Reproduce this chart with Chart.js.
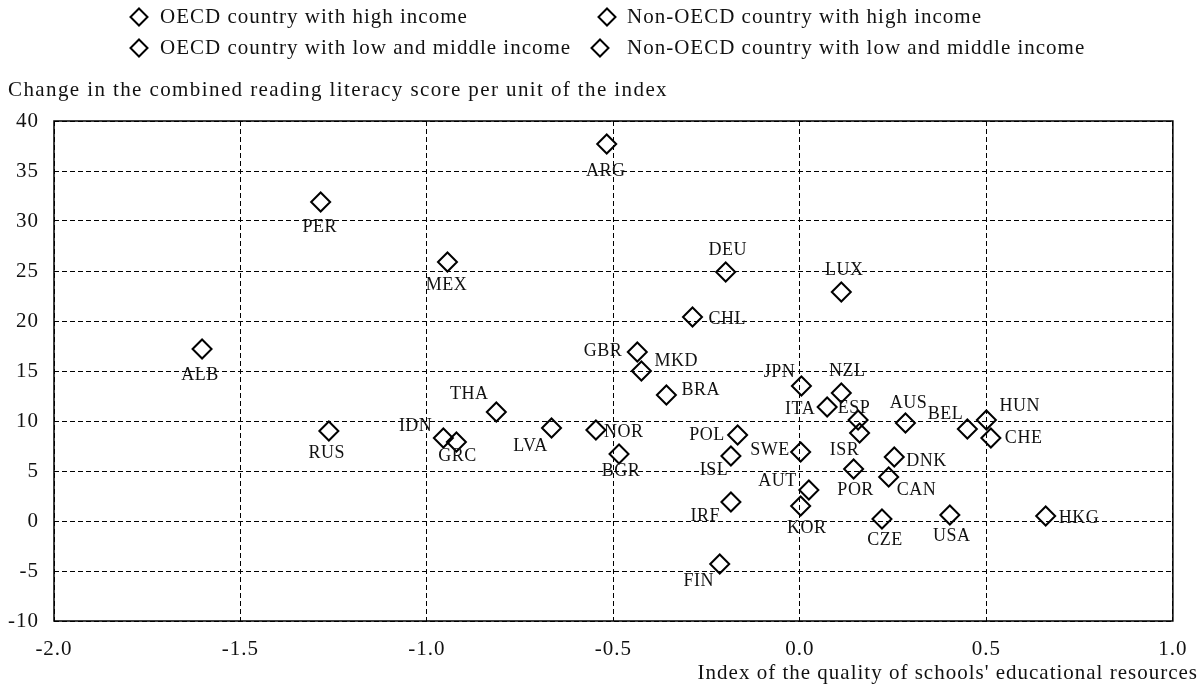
<!DOCTYPE html>
<html>
<head>
<meta charset="utf-8">
<script src="https://cdn.jsdelivr.net/npm/chart.js@4/dist/chart.umd.min.js"></script>
<style>
  html, body { margin: 0; padding: 0; background: #fff; }
  #wrap { width: 1202px; height: 690px; }
</style>
</head>
<body>
<div id="wrap"><canvas id="myChart" width="1202" height="690"></canvas></div>
<script>
// series names (legend order)
const seriesNames = [
    'OECD country with high income',
    'Non-OECD country with high income',
    'OECD country with low and middle income',
    'Non-OECD country with low and middle income'
];

// OECD, high income
const oecdHighCodes = ['AUS', 'AUT', 'BEL', 'CAN', 'DNK', 'FIN', 'DEU', 'GRC', 'ISL', 'IRF', 'ITA',
    'JPN', 'KOR', 'LUX', 'NZL', 'NOR', 'POR', 'ESP', 'SWE', 'CHE', 'GBR', 'USA'];
const oecdHighX = [0.283, 0.024, 0.449, 0.238, 0.253, -0.215, -0.199, -0.921, -0.185, -0.185, 0.073,
    0.004, 0.002, 0.111, 0.111, -0.547, 0.144, 0.156, 0.002, 0.512, -0.436, 0.402];
const oecdHighY = [9.8, 3.1, 9.2, 4.4, 6.4, -4.3, 24.9, 7.9, 6.5, 1.9, 11.4,
    13.5, 1.5, 22.9, 12.8, 9.1, 5.2, 10.1, 6.9, 8.3, 16.9, 0.6];

// non-OECD, high income
const nonOecdHighCodes = ['HKG', 'ISR'];
const nonOecdHighX = [0.659, 0.160];
const nonOecdHighY = [0.5, 8.8];

// OECD, low and middle income
const oecdLowCodes = ['CZE', 'HUN', 'MEX', 'POL'];
const oecdLowX = [0.220, 0.500, -0.945, -0.167];
const oecdLowY = [0.2, 10.1, 25.9, 8.6];

// non-OECD, low and middle income
const nonOecdLowCodes = ['ALB', 'ARG', 'BGR', 'BRA', 'CHL', 'IDN', 'LVA', 'MKD', 'PER', 'RUS', 'THA'];
const nonOecdLowX = [-1.603, -0.518, -0.485, -0.358, -0.288, -0.956, -0.666, -0.425, -1.285, -1.263, -0.814];
const nonOecdLowY = [17.2, 37.7, 6.7, 12.6, 20.4, 8.3, 9.3, 15.0, 31.9, 9.0, 10.9];

const yTitle = 'Change in the combined reading literacy score per unit of the index';
const xTitle = "Index of the quality of schools' educational resources";

// where each country code sits relative to its marker: [align, dx, dy]
const labelPlacement = {
    PER: ['c', -1, 25], ALB: ['c', -2, 26], RUS: ['c', -2, 22], ARG: ['c', -1, 27],
    MEX: ['c', -1, 23], DEU: ['c', 2, -22], CHL: ['l', 16, 2], GBR: ['r', -15, -1],
    MKD: ['l', 13, -10], BRA: ['l', 15, -5], THA: ['c', -27, -18], IDN: ['r', -11, -12],
    GRC: ['c', 1, 14], LVA: ['c', -21, 18], NOR: ['l', 8, 2], BGR: ['c', 2, 17],
    POL: ['r', -13, 0], ISL: ['c', -17, 14], SWE: ['r', -11, -2], LUX: ['c', 3, -22],
    JPN: ['c', -22, -14], NZL: ['c', 6, -22], ITA: ['r', -12, 2], ESP: ['c', -4, -12],
    ISR: ['c', -15, 17], AUS: ['c', 3, -20], BEL: ['c', -22, -15], HUN: ['l', 13, -14],
    CHE: ['l', 14, 0], DNK: ['l', 12, 4], POR: ['c', 2, 21], CAN: ['l', 8, 13],
    AUT: ['r', -12, -9], KOR: ['c', 6, 22], IRF: ['r', -11, 14], CZE: ['c', 3, 21],
    USA: ['c', 2, 21], HKG: ['l', 13, 2], FIN: ['c', -21, 17]
};

const SERIF = "'Liberation Serif', 'Times New Roman', serif";

function toPoints(xs, ys) {
    return xs.map((x, i) => ({ x: x, y: ys[i] }));
}

function makeSet(name, codes, xs, ys) {
    return {
        label: name,
        codes: codes,
        data: toPoints(xs, ys),
        pointStyle: 'rectRot',
        pointRadius: 9.5,
        pointHoverRadius: 9.5,
        borderWidth: 2,
        borderColor: '#000',
        backgroundColor: 'rgba(0,0,0,0)'
    };
}

const data = {
    datasets: [
        makeSet(seriesNames[0], oecdHighCodes, oecdHighX, oecdHighY),
        makeSet(seriesNames[1], nonOecdHighCodes, nonOecdHighX, nonOecdHighY),
        makeSet(seriesNames[2], oecdLowCodes, oecdLowX, oecdLowY),
        makeSet(seriesNames[3], nonOecdLowCodes, nonOecdLowX, nonOecdLowY)
    ]
};

function diamond(ctx, x, y, r) {
    ctx.beginPath();
    ctx.moveTo(x, y - r);
    ctx.lineTo(x + r, y);
    ctx.lineTo(x, y + r);
    ctx.lineTo(x - r, y);
    ctx.closePath();
    ctx.stroke();
}

// spacing tweak so tick labels look like the original face
const spacing = {
    id: 'spacing',
    beforeDraw(chart) { chart.ctx.letterSpacing = '1px'; },
    afterDraw(chart) { chart.ctx.letterSpacing = '0px'; }
};

const frame = {
    id: 'frame',
    beforeDatasetsDraw(chart) {
        const { ctx, chartArea: a } = chart;
        ctx.save();
        ctx.strokeStyle = '#000';
        ctx.lineWidth = 1.5;
        ctx.setLineDash([]);
        ctx.strokeRect(a.left, a.top, a.right - a.left, a.bottom - a.top);
        ctx.restore();
    }
};

const countryLabels = {
    id: 'countryLabels',
    afterDatasetsDraw(chart) {
        const ctx = chart.ctx;
        ctx.save();
        ctx.font = '18px ' + SERIF;
        ctx.fillStyle = '#111';
        ctx.textBaseline = 'middle';
        ctx.letterSpacing = '0.5px';
        chart.data.datasets.forEach((ds, di) => {
            chart.getDatasetMeta(di).data.forEach((pt, i) => {
                const code = ds.codes[i];
                const p = labelPlacement[code] || ['c', 0, 20];
                ctx.textAlign = p[0] === 'l' ? 'left' : p[0] === 'r' ? 'right' : 'center';
                ctx.fillText(code, pt.x + p[1], pt.y + p[2]);
            });
        });
        ctx.restore();
    }
};

const legendAndTitles = {
    id: 'legendAndTitles',
    afterDraw(chart) {
        const ctx = chart.ctx;
        ctx.save();
        ctx.fillStyle = '#111';
        ctx.strokeStyle = '#000';
        ctx.lineWidth = 2;
        ctx.textBaseline = 'middle';
        ctx.textAlign = 'left';
        ctx.font = '21px ' + SERIF;
        ctx.letterSpacing = '1px';

        // legend, two columns
        const slots = [[139, 160, 17], [607, 627, 17], [139, 160, 48], [600, 627, 48]];
        seriesNames.forEach((name, i) => {
            const s = slots[i];
            diamond(ctx, s[0], s[2], 8.5);
            ctx.fillText(name, s[1], s[2]);
        });

        // axis titles
        ctx.textAlign = 'right';
        ctx.fillText(xTitle, 1198, 673);
        ctx.textAlign = 'left';
        ctx.letterSpacing = '1.4px';
        ctx.fillText(yTitle, 8, 90);
        ctx.restore();
    }
};

const gridStyle = {
    color: '#000',
    lineWidth: 1,
    drawTicks: false
};

const config = {
    type: 'scatter',
    data: data,
    options: {
        responsive: false,
        animation: false,
        devicePixelRatio: 1,
        layout: { padding: { top: 121, right: 22, left: 0, bottom: 0 } },
        plugins: {
            legend: { display: false },
            tooltip: { enabled: false }
        },
        scales: {
            x: {
                type: 'linear',
                min: -2,
                max: 1,
                afterFit(scale) { scale.height = 69; },
                border: { display: false, dash: [5, 3] },
                grid: gridStyle,
                ticks: {
                    stepSize: 0.5,
                    padding: 16,
                    color: '#111',
                    font: { family: SERIF, size: 21 },
                    callback: v => v.toFixed(1)
                }
            },
            y: {
                type: 'linear',
                min: -10,
                max: 40,
                afterFit(scale) { scale.width = 54; },
                border: { display: false, dash: [5, 3] },
                grid: gridStyle,
                ticks: {
                    stepSize: 5,
                    padding: 15,
                    color: '#111',
                    font: { family: SERIF, size: 21 }
                }
            }
        }
    },
    plugins: [spacing, frame, countryLabels, legendAndTitles]
};

const myChart = new Chart(
    document.getElementById('myChart'),
    config
);
</script>
</body>
</html>
